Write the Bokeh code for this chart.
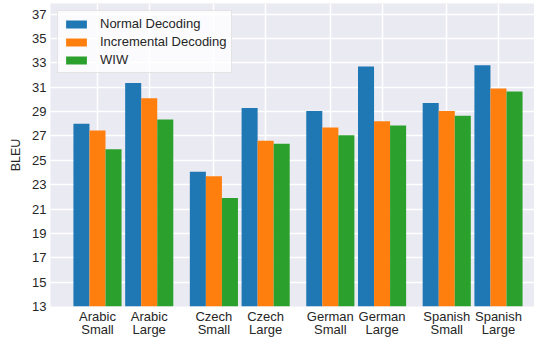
from bokeh.plotting import figure
from bokeh.models import ColumnDataSource, FixedTicker, Range1d, Legend, LegendItem, LinearAxis
from bokeh.embed import file_html
from bokeh.resources import INLINE

languages = ["Arabic", "Arabic", "Czech", "Czech", "German", "German", "Spanish", "Spanish"]
sizes = ["Small", "Large", "Small", "Large", "Small", "Large", "Small", "Large"]
positions = [0, 1, 2.25, 3.25, 4.5, 5.5, 6.75, 7.75]
normal = [28.0, 31.35, 24.05, 29.3, 29.05, 32.7, 29.7, 32.8]
incremental = [27.45, 30.1, 23.7, 26.6, 27.7, 28.2, 29.05, 30.9]
wiw = [25.9, 28.35, 21.9, 26.35, 27.05, 27.85, 28.65, 30.65]
series_names = ["Normal Decoding", "Incremental Decoding", "WIW"]
colors = ["#1f77b4", "#ff7f0e", "#2ca02c"]
yticks = list(range(13, 38, 2))

FONT = "Liberation Sans"
TXT = "#262626"
bw = 0.31

p = figure(width=534, height=339, output_backend="svg", toolbar_location=None,
           x_range=Range1d(-0.908, 8.446), y_range=Range1d(13, 37.87),
           min_border_left=50, min_border_right=0, min_border_top=3, min_border_bottom=10)
p.background_fill_color = "#eaeaf2"
p.border_fill_color = "white"
p.outline_line_color = None

items = []
for i, (name, vals, c) in enumerate(zip(series_names, [normal, incremental, wiw], colors)):
    src = ColumnDataSource(dict(x=[x + (i - 1) * bw for x in positions], top=vals))
    r = p.vbar(x="x", top="top", bottom=13, width=bw, source=src,
               fill_color=c, line_color=None)
    items.append(LegendItem(label=name, renderers=[r]))

p.xaxis.ticker = FixedTicker(ticks=positions)
p.xaxis.major_label_overrides = {x: s for x, s in zip(positions, languages)}
p.yaxis.ticker = FixedTicker(ticks=yticks)

ax2 = LinearAxis(ticker=FixedTicker(ticks=positions),
                 major_label_overrides={x: s for x, s in zip(positions, sizes)})
p.add_layout(ax2, "below")

for ax in [p.xaxis[0], ax2, p.yaxis[0]]:
    ax.axis_line_color = None
    ax.major_tick_line_color = None
    ax.minor_tick_line_color = None
    ax.major_tick_out = 0
    ax.major_tick_in = 0
    ax.minor_tick_out = 0
    ax.minor_tick_in = 0
    ax.major_label_text_font = FONT
    ax.major_label_text_font_size = "13px"
    ax.major_label_text_color = TXT
    ax.major_label_standoff = 4

p.xaxis[0].major_label_standoff = 2
ax2.major_label_standoff = -5

p.yaxis.axis_label = "BLEU"
p.yaxis.axis_label_text_font = FONT
p.yaxis.axis_label_text_font_size = "12.5px"
p.yaxis.axis_label_text_font_style = "normal"
p.yaxis.axis_label_text_color = TXT
p.yaxis.axis_label_standoff = 6

p.xgrid.ticker = FixedTicker(ticks=positions)
p.grid.grid_line_color = "white"
p.grid.grid_line_width = 1.5

legend = Legend(items=items, location="top_left")
legend.margin = 7
legend.label_text_font = FONT
legend.label_text_font_size = "13px"
legend.label_text_color = TXT
legend.glyph_width = 26
legend.glyph_height = 10
legend.label_standoff = 11
legend.label_height = 12
legend.spacing = 3
legend.padding = 5
legend.background_fill_color = "white"
legend.background_fill_alpha = 0.8
legend.border_line_color = "#cccccc"
legend.border_line_width = 1
p.add_layout(legend)

open("out.html", "w").write(file_html(p, INLINE))
